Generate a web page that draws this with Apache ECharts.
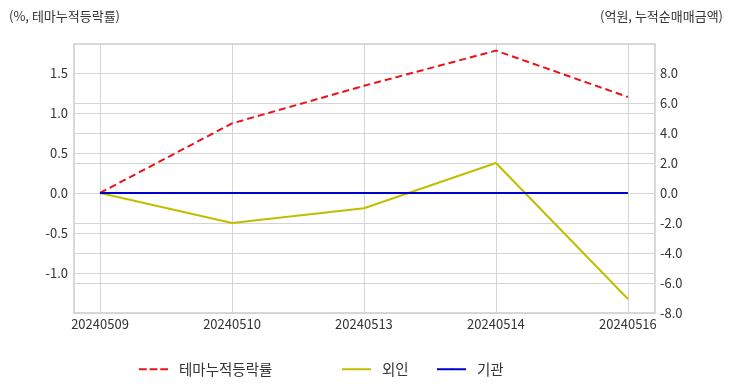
<!DOCTYPE html>
<html>
<head>
<meta charset="utf-8">
<script src="https://cdn.jsdelivr.net/npm/echarts@6/dist/echarts.min.js"></script>
<style>html,body{margin:0;padding:0;background:#fff}#c{width:732px;height:392px}</style>
</head>
<body>
<div id="c"></div>
<script>
var categories = ['20240509', '20240510', '20240513', '20240514', '20240516'];
var themeRate = [0.0, 0.87, 1.34, 1.78, 1.20];
var foreign = [0.0, -2.0, -1.02, 2.0, -7.07];
var institution = [0.0, 0.0, 0.0, 0.0, 0.0];
var leftTicks = [1.5, 1.0, 0.5, 0.0, -0.5, -1.0];
var rightTicks = [8, 6, 4, 2, 0, -2, -4, -6, -8];

var FONT = '"Noto Sans CJK KR", "Noto Sans", sans-serif';
function pts(arr) { return arr.map(function (v, i) { return [i, v]; }); }
var idx = categories.map(function (c, i) { return i; });
var legendText = { fontSize: 14.5, color: '#333', fontFamily: FONT, padding: [0, 0, 0, 6] };

var chart = echarts.init(document.getElementById('c'));
chart.setOption({
  animation: false,
  textStyle: { fontFamily: FONT },
  title: [
    { text: '(%, 테마누적등락률)', left: 4, top: 5, textStyle: { fontSize: 13, fontWeight: 'normal', color: '#333', fontFamily: FONT } },
    { text: '(억원, 누적순매매금액)', right: 4, top: 5, textStyle: { fontSize: 13, fontWeight: 'normal', color: '#333', fontFamily: FONT } }
  ],
  grid: { left: 74, right: 77, top: 44, bottom: 79, show: true, borderColor: '#cccccc', borderWidth: 1.5 },
  legend: [
    { data: [{ name: '테마누적등락률', icon: 'path://M0,0 L8,0 L8,2 L0,2 Z M11,0 L19,0 L19,2 L11,2 Z M22,0 L30,0 L30,2 L22,2 Z' }], left: 134, top: 357, itemWidth: 29, itemHeight: 2, textStyle: legendText },
    { data: ['외인'], left: 336, top: 357, itemWidth: 29, itemHeight: 2, textStyle: legendText },
    { data: ['기관'], left: 431, top: 357, itemWidth: 29, itemHeight: 2, textStyle: legendText }
  ],
  xAxis: {
    type: 'value', min: -0.197, max: 4.205,
    axisLine: { show: false },
    axisTick: { show: false, customValues: idx },
    axisLabel: { customValues: idx, color: '#333', fontSize: 13, margin: 5, fontFamily: FONT,
      formatter: function (v) { return categories[Math.round(v)]; } },
    splitLine: { show: true, lineStyle: { color: '#d4d4d4', width: 1 } }
  },
  yAxis: [
    { type: 'value', min: -1.5, max: 1.8625, position: 'left',
      axisLine: { show: false },
      axisLabel: { customValues: leftTicks, color: '#333', fontSize: 13, margin: 6, fontFamily: FONT, formatter: function (v) { return v.toFixed(1); } },
      axisTick: { show: false, customValues: leftTicks },
      splitLine: { show: true, lineStyle: { color: '#d4d4d4', width: 1 } } },
    { type: 'value', min: -8, max: 9.933, position: 'right',
      axisLine: { show: false },
      axisLabel: { customValues: rightTicks, color: '#333', fontSize: 13, margin: 5, fontFamily: FONT, formatter: function (v) { return v.toFixed(1); } },
      axisTick: { show: false, customValues: rightTicks },
      splitLine: { show: true, lineStyle: { color: '#d4d4d4', width: 1 } } }
  ],
  series: [
    { name: '테마누적등락률', type: 'line', yAxisIndex: 0, data: pts(themeRate), symbol: 'none',
      lineStyle: { color: '#e8141a', width: 2, type: [7, 4] }, itemStyle: { color: '#e8141a' } },
    { name: '외인', type: 'line', yAxisIndex: 1, data: pts(foreign), symbol: 'none',
      lineStyle: { color: '#bfbf00', width: 2 }, itemStyle: { color: '#bfbf00' } },
    { name: '기관', type: 'line', yAxisIndex: 1, data: pts(institution), symbol: 'none',
      lineStyle: { color: '#0000cc', width: 2 }, itemStyle: { color: '#0000cc' } }
  ]
});
</script>
</body>
</html>
